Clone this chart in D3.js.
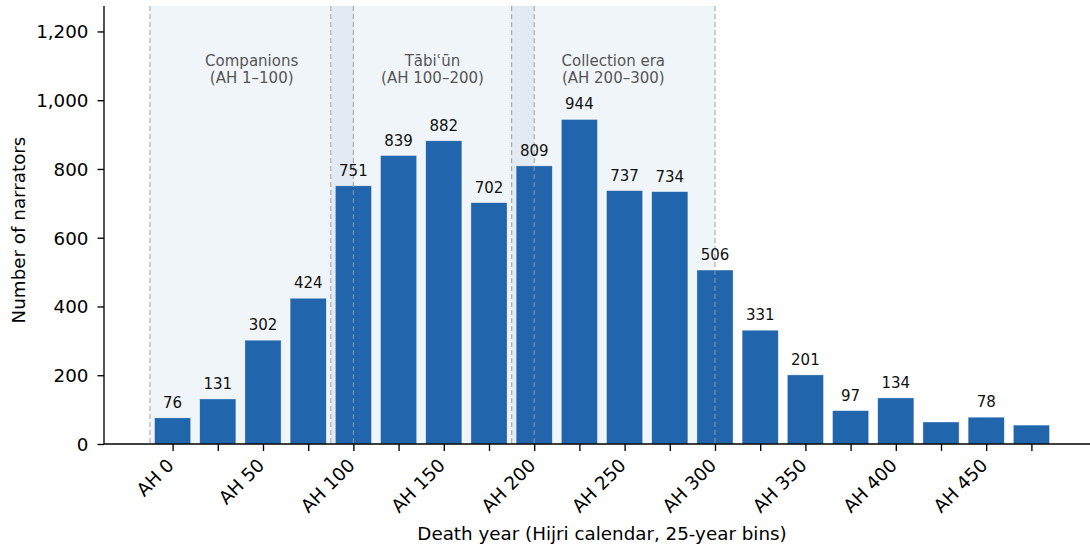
<!DOCTYPE html>
<html>
<head>
<meta charset="utf-8">
<script src="https://cdn.jsdelivr.net/npm/d3@7"></script>
<style>
  body { margin: 0; background: #fff; }
  svg text { font-family: "DejaVu Sans", sans-serif; }
</style>
</head>
<body>
<svg id="chart" width="1090" height="545"></svg>
<script>
// bins of 25 years, starting at AH 0
var binStarts = d3.range(0, 500, 25);
var counts = [76, 131, 302, 424, 751, 839, 882, 702, 809, 944, 737, 734, 506, 331, 201, 97, 134, 64, 78, 55];
var yTicks = [0, 200, 400, 600, 800, 1000, 1200];
var periodNames = ["Companions", "T\u0101bi\u02bf\u016bn", "Collection era"];
var periodRanges = ["(AH 1\u2013100)", "(AH 100\u2013200)", "(AH 200\u2013300)"];
var periodStart = [-0.5, 3.5, 7.5];   // in bin positions
var periodEnd = [4, 8, 12];

var svg = d3.select("#chart");
var mLeft = 104, mRight = 1090, mTop = 6, mBottom = 444;

var x = d3.scaleLinear().domain([-0.5, 12]).range([150, 715]);
var y = d3.scaleLinear().domain([0, 1274]).range([mBottom, mTop]);
var barW = 0.8;
var barColor = "#2166ac";

// period shading
var g = svg.append("g");
g.selectAll("rect.span")
    .data(periodStart)
    .enter()
    .append("rect")
    .attr("class", "span")
    .attr("x", function (d) { return x(d); })
    .attr("y", mTop)
    .attr("width", function (d, i) { return x(periodEnd[i]) - x(d); })
    .attr("height", mBottom - mTop)
    .attr("fill", barColor)
    .attr("fill-opacity", 0.065);

// bars
g.selectAll("rect.bar")
    .data(counts)
    .enter()
    .append("rect")
    .attr("class", "bar")
    .attr("x", function (d, i) { return x(i - barW / 2); })
    .attr("width", x(barW) - x(0))
    .attr("y", function (d) { return y(d); })
    .attr("height", function (d) { return mBottom - y(d); })
    .attr("fill", barColor)
    .attr("stroke", "#ffffff")
    .attr("stroke-opacity", 0.6)
    .attr("stroke-width", 0.6);

// dashed boundaries
var bounds = periodStart.concat(periodEnd);
g.selectAll("line.bound")
    .data(bounds)
    .enter()
    .append("line")
    .attr("x1", function (d) { return x(d); })
    .attr("x2", function (d) { return x(d); })
    .attr("y1", mTop)
    .attr("y2", mBottom)
    .attr("stroke", "#999")
    .attr("stroke-opacity", 0.85)
    .attr("stroke-width", 1.1)
    .attr("stroke-dasharray", "5,3");

// period labels
periodNames.forEach(function (name, i) {
    var cx = (x(periodStart[i]) + x(periodEnd[i])) / 2;
    var t = g.append("text")
        .attr("x", cx)
        .attr("y", 66)
        .attr("text-anchor", "middle")
        .attr("fill", "#555")
        .style("font-size", "15px");
    t.append("tspan").attr("x", cx).text(name);
    t.append("tspan").attr("x", cx).attr("dy", 16.5).text(periodRanges[i]);
});

// value labels (small bins left unlabeled)
g.selectAll("text.val")
    .data(counts.map(function (d, i) { return {v: d, i: i}; }).filter(function (d) { return d.v >= 70; }))
    .enter()
    .append("text")
    .attr("class", "val")
    .attr("x", function (d) { return x(d.i); })
    .attr("y", function (d) { return y(d.v) - 10; })
    .attr("text-anchor", "middle")
    .style("font-size", "15px")
    .attr("fill", "#111")
    .text(function (d) { return d3.format(",")(d.v); });

// y axis
var yAxis = d3.axisLeft(y).tickValues(yTicks).tickFormat(d3.format(",")).tickSize(6.5).tickPadding(9);
var ya = svg.append("g").attr("transform", "translate(" + mLeft + ",0)").call(yAxis);
ya.select(".domain").attr("d", "M0," + mTop + "V" + mBottom).attr("stroke-width", 1.35);
ya.selectAll("text").style("font-size", "18.3px").attr("fill", "#000").attr("dy", "0.35em");
ya.selectAll(".tick line").attr("stroke-width", 1.35);

// x axis
var xAxis = d3.axisBottom(x).tickValues(d3.range(counts.length)).tickSize(7)
    .tickFormat(function (d) { return d % 2 === 0 ? "AH " + binStarts[d] : ""; });
var xa = svg.append("g").attr("transform", "translate(0," + mBottom + ")").call(xAxis);
xa.select(".domain").attr("d", "M" + mLeft + ",0H" + mRight).attr("stroke-width", 1.35);
xa.selectAll(".tick line").attr("stroke-width", 1.35);
xa.selectAll("text")
    .style("font-size", "18.3px")
    .attr("fill", "#000")
    .attr("text-anchor", "end")
    .attr("dy", null)
    .attr("y", 0)
    .attr("transform", "translate(2,22.5) rotate(-45)");

// axis titles
svg.append("text")
    .attr("x", 602)
    .attr("y", 540)
    .attr("text-anchor", "middle")
    .style("font-size", "18.3px")
    .text("Death year (Hijri calendar, 25-year bins)");

svg.append("text")
    .attr("transform", "translate(25,230) rotate(-90)")
    .attr("text-anchor", "middle")
    .style("font-size", "18.3px")
    .text("Number of narrators");
</script>
</body>
</html>
